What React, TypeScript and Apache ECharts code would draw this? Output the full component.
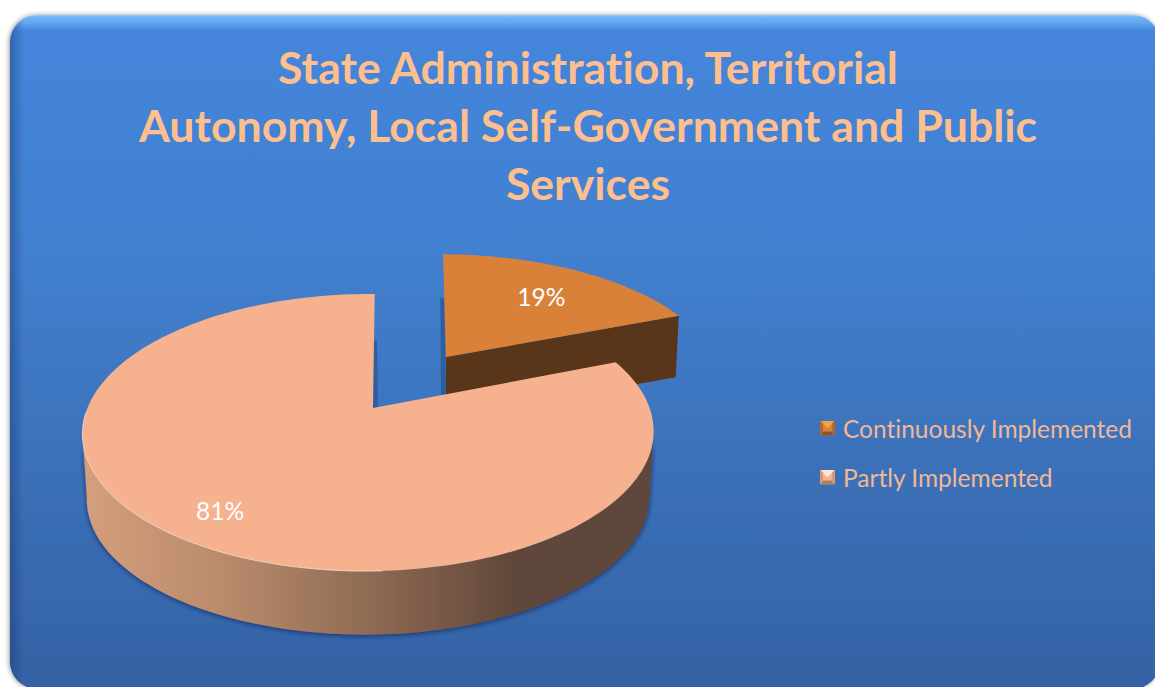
import React, { useEffect, useRef } from "react";
import * as echarts from "echarts";

// Share of measures per implementation status, in percent
const categories = ["Continuously Implemented", "Partly Implemented"];
const shares = [19, 81];
const titleLines = [
  "State Administration, Territorial",
  "Autonomy, Local Self-Government and Public",
  "Services",
];

const FONT = "Lato, 'Open Sans', sans-serif";

type View = {
  ox: number; oy: number; rx: number; ry: number;
  shear: number; labelR: number; labelShift: number; depth: number; wallScale: number;
};

// Tilted-disc perspective for each slice: the exploded slice sits further back
const K = 0.177;
const M = 0.0158;
const views: View[] = [
  { ox: 446, oy: 357, rx: 271.7, ry: 121, shear: -3.5, labelR: 0.673, labelShift: 4, depth: 61, wallScale: 0.987 },
  { ox: 373, oy: 408, rx: 281, ry: 134.2, shear: 2, labelR: 0.81, labelShift: -5, depth: 66, wallScale: 0.985 },
];

const TOP_COLORS = ["#D98039", "#F6B28E"];
const WALL_COLOR = "#59351A";

function project(view: View, deg: number, r: number, lower: boolean): number[] {
  const t = (deg * Math.PI) / 180;
  const u = r * Math.sin(t);
  const v = r * Math.cos(t);
  const d = 1 + K * v + M * u;
  const s = lower ? view.wallScale : 1;
  return [
    view.ox + (s * (view.rx * u + view.shear * v)) / d,
    view.oy + (lower ? view.depth : 0) - (s * view.ry * v) / d,
  ];
}

function arcPoints(view: View, from: number, to: number, lower: boolean): number[][] {
  const steps = Math.max(2, Math.ceil(Math.abs(to - from) / 1.5));
  const pts: number[][] = [];
  for (let i = 0; i <= steps; i++) {
    pts.push(project(view, from + ((to - from) * i) / steps, 1, lower));
  }
  return pts;
}

function sliceAngles(index: number): [number, number] {
  const total = shares.reduce((a, b) => a + b, 0);
  const before = shares.slice(0, index).reduce((a, b) => a + b, 0);
  return [(before / total) * 360, ((before + shares[index]) / total) * 360];
}

function renderSlice(index: number) {
  return (_params: any, api: any) => {
    const value = api.value(0) as number;
    const view = views[index];
    const [start, end] = sliceAngles(index);
    const apex = project(view, 0, 0, false);
    const rim = arcPoints(view, start, end, false);
    const children: any[] = [];

    if (index === 0) {
      // Straight cut face of the exploded slice, with the shadow on its left side
      const edge = project(view, start, 0.53, false);
      children.push({
        type: "polygon",
        shape: { points: [[edge[0] - 4, edge[1]], [edge[0], edge[1]], [apex[0], apex[1] + 38], [apex[0] - 5, apex[1] + 38]] },
        style: { fill: "#2F5E9E" },
      });
      children.push({
        type: "polygon",
        shape: {
          points: [
            apex,
            project(view, end, 1, false),
            project(view, end, 1, true),
            project(view, 0, 0, true),
          ],
        },
        style: { fill: WALL_COLOR },
      });
    } else {
      // Shadow along the cut at twelve o'clock, then the curved front wall
      const edge = project(view, end, 0.55, false);
      children.push({
        type: "polygon",
        shape: { points: [[edge[0] - 1, edge[1]], [edge[0] + 3, edge[1]], [apex[0] + 5, apex[1]], [apex[0], apex[1]]] },
        style: { fill: "#2F5E9E" },
      });
      const lower = arcPoints(view, 100, 260, true);
      const upper = arcPoints(view, 260, 100, false);
      children.push({
        type: "polygon",
        shape: { points: [...lower, ...upper] },
        style: {
          fill: new echarts.graphic.LinearGradient(0, 0, 1, 0, [
            { offset: 0, color: "#D49F7D" },
            { offset: 0.25, color: "#B98A6B" },
            { offset: 0.5, color: "#8F6B54" },
            { offset: 0.76, color: "#60473A" },
            { offset: 1, color: "#60473A" },
          ]),
          shadowColor: "rgba(10,30,80,0.75)",
          shadowBlur: 5,
          shadowOffsetY: 1,
        },
      });
    }

    children.push({
      type: "polygon",
      shape: { points: [apex, ...rim] },
      style: { fill: TOP_COLORS[index] },
    });

    if (index === 1) {
      // Thin highlight where the top meets the wall on the lit side
      children.push({
        type: "polyline",
        shape: { points: arcPoints(view, 178, 268, false) },
        style: { stroke: "rgba(255,228,205,0.75)", lineWidth: 1, fill: "none" },
      });
    }

    const mid = (start + end) / 2;
    const spot = project(view, mid, view.labelR, false);
    children.push({
      type: "text",
      x: spot[0] + view.labelShift,
      y: spot[1],
      style: {
        text: `${value}%`,
        fill: "#FFFFFF",
        font: `400 24.5px ${FONT}`,
        textAlign: "center",
        textVerticalAlign: "middle",
      },
    });
    return { type: "group", children };
  };
}

function bevelIcon(light: string, base: string, dark: string, side: string): string {
  const svg =
    `<svg xmlns="http://www.w3.org/2000/svg" width="15" height="15">` +
    `<rect width="15" height="15" fill="${base}"/>` +
    `<polygon points="0,0 15,0 7.5,8" fill="${light}"/>` +
    `<polygon points="0,15 15,15 12,11 3,11" fill="${dark}"/>` +
    `<polygon points="0,0 3,3 3,12 0,15" fill="${side}"/>` +
    `<polygon points="15,0 12,3 12,12 15,15" fill="${side}"/></svg>`;
  return "image://data:image/svg+xml;charset=utf-8," + encodeURIComponent(svg);
}

const legendIcons = [
  bevelIcon("#F2A24F", "#D98039", "#8F5222", "#B5682C"),
  bevelIcon("#FFE6D3", "#F6B28E", "#B07F60", "#D89A76"),
];

export default function App() {
  const ref = useRef<HTMLDivElement>(null);

  useEffect(() => {
    document.body.style.margin = "0";
    document.body.style.background = "#FFFFFF";
    const chart = echarts.init(ref.current!, undefined, { renderer: "svg" });
    chart.setOption({
      animation: false,
      title: {
        text: titleLines.join("\n"),
        left: 583,
        top: 32,
        textAlign: "center",
        textStyle: {
          color: "#FDBF8E",
          fontFamily: FONT,
          fontWeight: 700,
          fontSize: 44.6,
          lineHeight: 58,
        },
      },
      legend: {
        orient: "vertical",
        left: 820,
        top: 414,
        itemGap: 21,
        itemWidth: 15,
        itemHeight: 15,
        padding: 0,
        selectedMode: false,
        data: categories.map((name, i) => ({ name, icon: legendIcons[i] })),
        textStyle: {
          color: "#F0B896",
          fontFamily: FONT,
          fontSize: 24.5,
          lineHeight: 28,
          padding: [0, 0, 0, 3],
        },
      },
      graphic: [
        {
          type: "rect",
          z: -2,
          shape: { x: 10, y: 15, width: 1150, height: 674, r: 27 },
          style: {
            fill: new echarts.graphic.LinearGradient(0, 0, 0, 1, [
              { offset: 0, color: "#A9C7EA" },
              { offset: 0.003, color: "#6FB3FA" },
              { offset: 0.012, color: "#62A5F0" },
              { offset: 0.024, color: "#4485DB" },
              { offset: 0.35, color: "#4280D0" },
              { offset: 0.62, color: "#3C73BC" },
              { offset: 1, color: "#3462A4" },
            ]),
            shadowColor: "rgba(0,0,0,0.4)",
            shadowBlur: 5,
            shadowOffsetX: -1,
          },
        },
        {
          type: "rect",
          z: -1,
          shape: { x: 10, y: 15, width: 1150, height: 674, r: 27 },
          style: {
            fill: new echarts.graphic.LinearGradient(0, 0, 1, 0, [
              { offset: 0, color: "rgba(20,50,105,0.4)" },
              { offset: 0.012, color: "rgba(20,50,105,0)" },
              { offset: 1, color: "rgba(20,50,105,0)" },
            ]),
          },
        },
      ],
      series: categories.map((name, i) => ({
        type: "custom",
        name,
        coordinateSystem: "none",
        itemStyle: { color: TOP_COLORS[i] },
        data: [[shares[i]]],
        renderItem: renderSlice(i),
      })),
    });
    return () => chart.dispose();
  }, []);

  return <div ref={ref} style={{ width: 1155, height: 687, fontVariantLigatures: "none" }} />;
}
